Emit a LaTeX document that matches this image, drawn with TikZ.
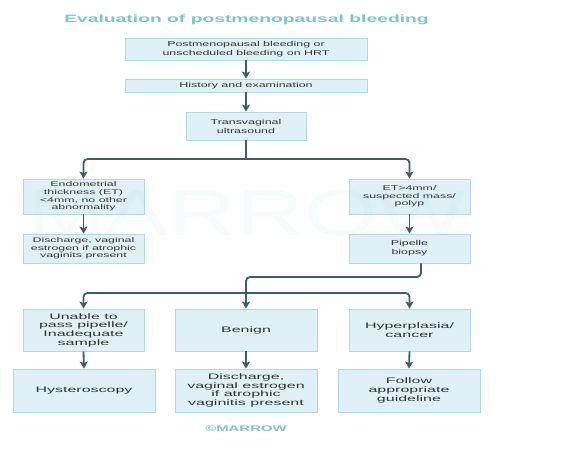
\documentclass[tikz,border=0pt]{standalone}
\usepackage{fontspec}
\setmainfont{Liberation Sans}
\newfontfamily\bxfont[FakeStretch=1.75]{Liberation Sans}
\newfontfamily\smfont[FakeStretch=1.82]{Liberation Sans}
\newfontfamily\bigfont[FakeStretch=2.0]{Liberation Sans}
\newfontfamily\ttlfont[FakeStretch=1.82]{Liberation Sans}
\newfontfamily\wmfont[FakeStretch=1.45]{Liberation Sans}
\usetikzlibrary{arrows.meta,calc}
\definecolor{boxfill}{HTML}{DFF1F6}
\definecolor{boxline}{HTML}{B3D9E3}
\definecolor{conncol}{HTML}{3E5D66}
\definecolor{ttlcol}{HTML}{7EC3CF}
\definecolor{txtcol}{HTML}{333333}
\begin{document}
\begin{tikzpicture}[x=1pt,y=-1pt,
  box/.style={draw=boxline,fill=boxfill,line width=0.8pt,inner sep=0pt,align=center,text=txtcol,
    font=\bxfont\fontsize{7.1}{9}\selectfont},
  smbox/.style={box,font=\smfont\fontsize{6.8}{7.7}\selectfont},
  bigbox/.style={box,font=\bigfont\fontsize{8}{8.7}\selectfont},
  conn/.style={draw=conncol,line width=1.8pt},
  arr/.style={conn,-{Stealth[length=7pt,width=8pt,inset=1.5pt]}},
]
\useasboundingbox (0,0) rectangle (568,451);
\fill[white] (0,0) rectangle (568,451);

\node[text=ttlcol,font=\ttlfont\bfseries\fontsize{10.6}{12}\selectfont] (title) at (246.5,20) {Evaluation of postmenopausal bleeding};

\node[box,minimum width=242pt,minimum height=22pt] (b1) at (246,49) {Postmenopausal bleeding or\\unscheduled bleeding on HRT};
\node[box,minimum width=242pt,minimum height=13pt] (b2) at (246,85.5) {History and examination};
\node[box,minimum width=120pt,minimum height=28pt] (b3) at (246,126) {Transvaginal\\ultrasound};

\node[smbox,minimum width=121pt,minimum height=35pt] (l1) at (83.5,196.5) {Endometrial\\thickness (ET)\\<4mm, no other\\abnormality};
\node[smbox,minimum width=121pt,minimum height=29pt] (l2) at (83.5,248.5) {Discharge, vaginal\\estrogen if atrophic\\vaginits present};
\node[smbox,minimum width=121pt,minimum height=35pt] (r1) at (409.5,196.5) {ET>4mm/\\suspected mass/\\polyp};
\node[box,minimum width=121pt,minimum height=29pt] (r2) at (409.5,248.5) {Pipelle\\biopsy};

\node[bigbox,minimum width=121pt,minimum height=42pt] (c1) at (83.5,330) {Unable to\\pass pipelle/\\Inadequate\\sample};
\node[bigbox,minimum width=142pt,minimum height=42pt] (c2) at (246,330) {Benign};
\node[bigbox,minimum width=121pt,minimum height=42pt] (c3) at (409.5,330) {Hyperplasia/\\cancer};

\node[bigbox,minimum width=142pt,minimum height=43pt] (d1) at (84,390.5) {Hysteroscopy};
\node[bigbox,minimum width=142pt,minimum height=43pt] (d2) at (246,390.5) {Discharge,\\vaginal estrogen\\if atrophic\\vaginitis present};
\node[bigbox,minimum width=142pt,minimum height=43pt] (d3) at (409,390.5) {Follow\\appropriate\\guideline};

\coordinate (s1) at (246,159);
\coordinate (j2) at (246,277);
\coordinate (s2) at (246,293);

\draw[arr] (b1.south) -- (b2.north);
\draw[arr] (b2.south) -- (b3.north);
\draw[conn] (b3.south) -- (s1);
\draw[arr,rounded corners=4pt] (s1) -| (l1.north);
\draw[arr,rounded corners=4pt] (s1) -| (r1.north);
\draw[arr] (l1.south) -- (l2.north);
\draw[arr] (r1.south) -- (r2.north);
\draw[conn,rounded corners=4pt] ([xshift=11.5pt]r2.south) |- (j2) -- (s2);
\draw[arr,rounded corners=4pt] (s2) -| (c1.north);
\draw[arr,rounded corners=4pt] (s2) -| (c3.north);
\draw[arr] (s2) -- (c2.north);
\draw[arr] (c1.south) -- (d1.north);
\draw[arr] (c2.south) -- (d2.north);
\draw[arr] (c3.south) -- (d3.north);

\node[text=ttlcol,font=\ttlfont\bfseries\fontsize{8.2}{10}\selectfont] (copy) at (246,429) {\textcopyright MARROW};

\node[text=ttlcol,opacity=0.06,font=\wmfont\fontsize{65}{70}\selectfont] (wm) at (247,213) {MARROW};
\end{tikzpicture}
\end{document}
